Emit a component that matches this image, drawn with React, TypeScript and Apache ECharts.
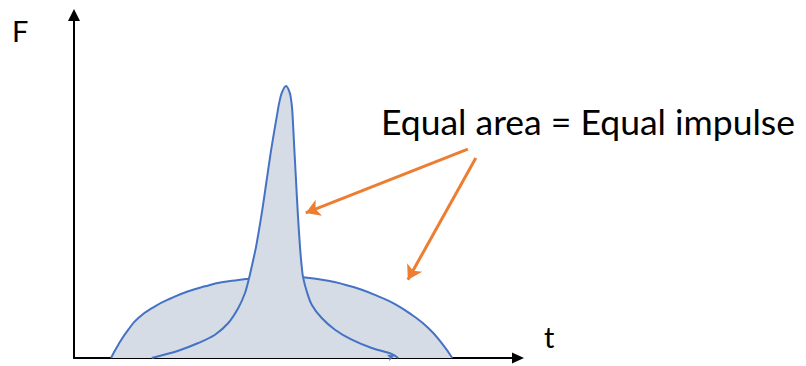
import React, { useEffect, useRef } from "react";
import * as echarts from "echarts";

// Wide, low force curve (t, F)
const domeT = [8.33, 9.98, 12.23, 14.48, 18.24, 22.0, 25.74, 29.5, 33.27, 37.0, 39.41, 45.3, 51.64, 57.27, 61.04, 64.8, 68.54, 72.3, 76.06, 79.8, 82.82, 85.2];
const domeF = [0, 3.88, 8.25, 11.66, 15.07, 17.49, 19.45, 20.9, 22.07, 22.74, 23.12, 24.0, 23.53, 22.54, 21.37, 19.91, 17.99, 15.74, 12.62, 8.75, 4.37, 0];

// Tall, narrow force peak (t, F)
const peakT = [17.5, 23.49, 28.0, 31.76, 34.75, 37.0, 38.51, 39.45, 40.0, 41.0, 42.3, 43.4, 44.5, 45.8, 46.2, 46.8, 47.75, 48.6, 49.0, 49.2, 49.6, 50.0, 50.4, 50.9, 51.3, 51.6, 52.41, 53.54, 55.79, 58.78, 62.55, 67.05, 71.55, 73.04];
const peakF = [0, 2.13, 4.37, 6.79, 10.2, 14.58, 18.95, 23.4, 26.5, 32.4, 42.3, 51.9, 61.5, 71.4, 74.3, 77.3, 79.3, 77.3, 74.3, 71.4, 61.5, 51.9, 42.3, 32.4, 26.5, 23.5, 19.45, 15.54, 11.66, 8.25, 5.34, 2.92, 1.17, 0];

// Annotation arrows: [startT, startF, endT, endF]
const arrowPeak = [88.7, 60.9, 52.2, 42.3];
const arrowDome = [90.5, 58.3, 75.2, 22.8];

const annotation = "Equal area = Equal impulse";
const yName = "F";
const xName = "t";

const fill = "#D6DCE5";
const stroke = "#4472C4";
const orange = "#ED7D31";

function pairs(xs: number[], ys: number[]) {
  return xs.map((x, i) => [x, ys[i]]);
}

export default function App() {
  const ref = useRef<HTMLDivElement>(null);
  useEffect(() => {
    if (!ref.current) return;
    const chart = echarts.init(ref.current, null, { renderer: "svg" });
    const font = "Lato, 'Open Sans', sans-serif";
    chart.setOption({
      animation: false,
      backgroundColor: "#ffffff",
      grid: { left: 74, right: 288, top: 15, bottom: 8, containLabel: false },
      xAxis: {
        type: "value",
        min: 0,
        max: 100,
        axisLine: {
          show: true,
          onZero: false,
          lineStyle: { color: "#000", width: 2 },
          symbol: ["none", "triangle"],
          symbolSize: [11, 12],
        },
        axisTick: { show: false },
        axisLabel: { show: false },
        splitLine: { show: false },
      },
      yAxis: {
        type: "value",
        min: 0,
        max: 100,
        axisLine: {
          show: true,
          onZero: false,
          lineStyle: { color: "#000", width: 2 },
          symbol: ["none", "triangle"],
          symbolSize: [12, 12],
        },
        axisTick: { show: false },
        axisLabel: { show: false },
        splitLine: { show: false },
      },
      series: [
        {
          type: "line",
          data: pairs(domeT, domeF),
          smooth: 0.5,
          symbol: "none",
          lineStyle: { color: stroke, width: 2 },
          areaStyle: { color: fill, opacity: 1 },
          z: 2,
        },
        {
          type: "line",
          data: pairs(peakT, peakF),
          smooth: 0.3,
          symbol: "none",
          lineStyle: { color: stroke, width: 2 },
          areaStyle: { color: fill, opacity: 1 },
          z: 3,
          markPoint: {
            silent: true,
            symbol: "arrow",
            symbolSize: [5, 7],
            symbolRotate: -70,
            itemStyle: { color: stroke },
            label: { show: false },
            data: [{ coord: [72.2, 0.7] }],
          },
        },
        {
          type: "line",
          data: [],
          z: 4,
          markLine: {
            silent: true,
            symbol: ["none", "arrow"],
            symbolSize: [13, 14],
            label: { show: false },
            lineStyle: { color: orange, width: 3, type: "solid" },
            data: [arrowPeak, arrowDome].map((a) => [
              { coord: [a[0], a[1]] },
              { coord: [a[2], a[3]] },
            ]),
          },
        },
      ],
      graphic: [
        {
          type: "text",
          left: 381,
          top: 103,
          style: { text: annotation, font: `35.5px ${font}`, fill: "#000" },
        },
        {
          type: "text",
          left: 12,
          top: 16,
          style: { text: yName, font: `29px ${font}`, fill: "#000" },
        },
        {
          type: "text",
          left: 544,
          top: 322,
          style: { text: xName, font: `29px ${font}`, fill: "#000" },
        },
      ],
    });
    return () => chart.dispose();
  }, []);
  return (
    <div
      ref={ref}
      style={{ position: "fixed", left: 0, top: 0, width: 806, height: 366 }}
    />
  );
}
